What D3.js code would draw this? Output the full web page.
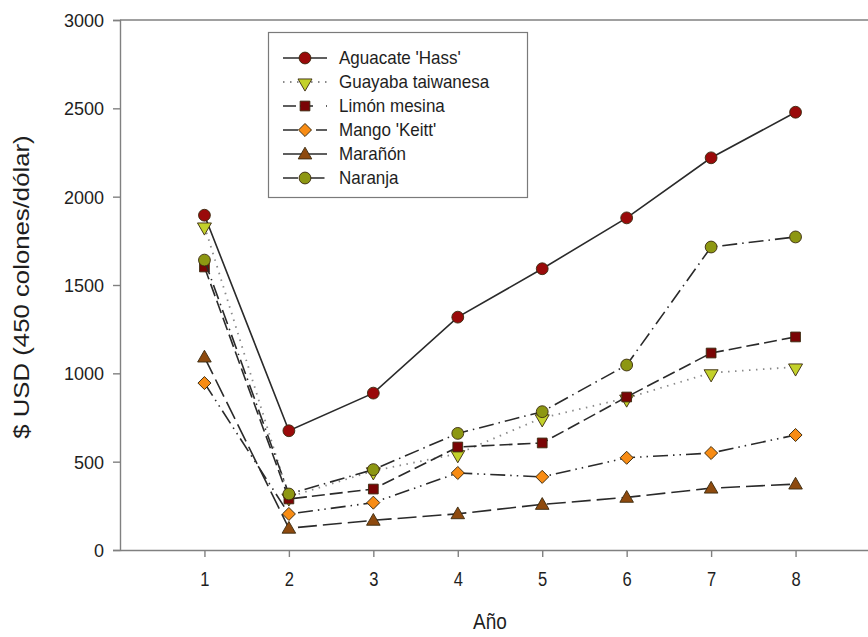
<!DOCTYPE html>
<html>
<head>
<meta charset="utf-8">
<script src="https://cdn.jsdelivr.net/npm/d3@7"></script>
<style>
  html, body { margin: 0; padding: 0; background: #fff; }
  svg { display: block; font-family: "Liberation Sans", Arial, sans-serif; }
</style>
</head>
<body>
<svg id="chart" width="868" height="637"></svg>
<script>
// Años del ciclo productivo
const years = [1, 2, 3, 4, 5, 6, 7, 8];
const yTicks = [0, 500, 1000, 1500, 2000, 2500, 3000];

// Valores en USD por cultivo
const aguacate = [1895, 675, 888, 1318, 1592, 1880, 2220, 2478];
const guayaba  = [1834, 300, 448, 545, 748, 860, 1003, 1036];
const limon    = [1602, 289, 345, 583, 606, 866, 1115, 1206];
const mango    = [945, 204, 268, 436, 414, 522, 549, 651];
const maranon  = [1092, 123, 168, 205, 258, 298, 350, 373];
const naranja  = [1641, 317, 455, 660, 783, 1047, 1715, 1772];

const seriesNames = ["Aguacate 'Hass'", "Guayaba taiwanesa", "Limón mesina", "Mango 'Keitt'", "Marañón", "Naranja"];
const seriesValues = [aguacate, guayaba, limon, mango, maranon, naranja];

const styles = [
  { shape: "circle",   fill: "#9a0a0a", dash: null,               legendDash: null,               stroke: "#2a2a2a", size: 110 },
  { shape: "triDown",  fill: "#c3d12a", dash: "1.5,5.5",          legendDash: "1.5,5.5",          stroke: "#8a8a8a", size: 85 },
  { shape: "square",   fill: "#7a0505", dash: "13,5",             legendDash: "13,4,13",          stroke: "#2a2a2a", size: 95 },
  { shape: "diamond",  fill: "#f88c14", dash: "15,5,1.5,5,1.5,5", legendDash: "15,5,1.5,5,1.5,5", stroke: "#2a2a2a", size: 85 },
  { shape: "triUp",    fill: "#8e4a0e", dash: "19,6",             legendDash: null,               stroke: "#2a2a2a", size: 80 },
  { shape: "circle",   fill: "#8d9712", dash: "15,5,1.5,5",       legendDash: "15,5,1.5,5",       stroke: "#2a2a2a", size: 110 }
];

const series = seriesNames.map((name, i) => ({
  name,
  values: years.map((yr, j) => ({ x: yr, y: seriesValues[i][j] })),
  style: styles[i]
}));

const svg = d3.select("#chart");
const x = d3.scaleLinear().domain([0, 9]).range([120, 880]);
const y = d3.scaleLinear().domain([0, 3000]).range([550, 20]);

const axisColor = "#808080";
const textColor = "#1e1e1e";

// Marco superior
svg.append("line")
  .attr("x1", x(0)).attr("x2", 868)
  .attr("y1", y(3000)).attr("y2", y(3000))
  .attr("stroke", axisColor).attr("stroke-width", 1.4);

// Eje Y
const gy = svg.append("g")
  .attr("transform", `translate(${x(0)},0)`)
  .call(d3.axisLeft(y).tickValues(yTicks).tickSize(7).tickPadding(9).tickFormat(d3.format("d")));
gy.select(".domain").attr("stroke", axisColor).attr("stroke-width", 1.4);
gy.selectAll(".tick line").attr("stroke", axisColor).attr("stroke-width", 1.4);
gy.selectAll(".tick text").attr("fill", textColor).style("font-size", "18px")
  .style("font-family", "'Liberation Sans', Arial, sans-serif")
  .attr("dy", "0.36em");

// Eje X
const gx = svg.append("g")
  .attr("transform", `translate(0,${y(0)})`)
  .call(d3.axisBottom(x).tickValues(years).tickSize(7).tickPadding(12).tickFormat(d3.format("d")).tickSizeOuter(0));
gx.select(".domain").attr("stroke", axisColor).attr("stroke-width", 1.4);
gx.selectAll(".tick line").attr("stroke", axisColor).attr("stroke-width", 1.4);
gx.selectAll(".tick text").attr("fill", textColor).style("font-size", "18px")
  .style("font-family", "'Liberation Sans', Arial, sans-serif")
  .attr("transform", "scale(0.92,1.12)");

// Títulos de ejes
svg.append("text")
  .attr("transform", `translate(29,${(y(0) + y(3000)) / 2 + 2}) rotate(-90) scale(1.12,1)`)
  .attr("text-anchor", "middle")
  .attr("fill", textColor)
  .style("font-size", "23px")
  .text("$ USD (450 colones/dólar)");

svg.append("text")
  .attr("transform", "translate(490,629) scale(1,1.2)")
  .attr("text-anchor", "middle")
  .attr("fill", textColor)
  .style("font-size", "19px")
  .text("Año");

// Símbolos
const shapeTypes = {
  circle: d3.symbolCircle,
  square: d3.symbolSquare,
  diamond: d3.symbolSquare,
  triUp: d3.symbolTriangle,
  triDown: d3.symbolTriangle
};
function symbolPath(style) {
  return d3.symbol().type(shapeTypes[style.shape]).size(style.size)();
}
function symbolTransform(style, cx, cy) {
  if (style.shape === "triDown") return `translate(${cx},${cy + 1}) rotate(180)`;
  if (style.shape === "triUp") return `translate(${cx},${cy + 1})`;
  if (style.shape === "diamond") return `translate(${cx},${cy}) rotate(45)`;
  return `translate(${cx},${cy})`;
}

const line = d3.line().x(d => x(d.x)).y(d => y(d.y));

series.forEach(s => {
  const g = svg.append("g");
  g.append("path")
    .datum(s.values)
    .attr("d", line)
    .attr("fill", "none")
    .attr("stroke", s.style.stroke)
    .attr("stroke-width", s.style.shape === "triDown" ? 1.8 : 1.6)
    .attr("stroke-dasharray", s.style.dash)
    .attr("stroke-linecap", "butt");
  g.selectAll("path.mk")
    .data(s.values)
    .join("path")
    .attr("class", "mk")
    .attr("d", symbolPath(s.style))
    .attr("transform", d => symbolTransform(s.style, x(d.x), y(d.y)))
    .attr("fill", s.style.fill)
    .attr("stroke", "#3a2a10")
    .attr("stroke-width", 0.9);
});

// Leyenda
const legend = svg.append("g");
legend.append("rect")
  .attr("x", 268.5).attr("y", 32.5)
  .attr("width", 259).attr("height", 165)
  .attr("fill", "#fff")
  .attr("stroke", "#7a7a7a")
  .attr("stroke-width", 1.2);

series.forEach((s, i) => {
  const cy = 58 + i * 24;
  const row = legend.append("g");
  row.append("line")
    .attr("x1", 283).attr("x2", 327)
    .attr("y1", cy).attr("y2", cy)
    .attr("stroke", s.style.stroke)
    .attr("stroke-width", s.style.shape === "triDown" ? 1.8 : 1.6)
    .attr("stroke-dasharray", s.style.legendDash);
  row.append("path")
    .attr("d", symbolPath(s.style))
    .attr("transform", symbolTransform(s.style, 305, cy))
    .attr("fill", s.style.fill)
    .attr("stroke", "#3a2a10")
    .attr("stroke-width", 0.9);
  row.append("text")
    .attr("transform", `translate(339,${cy + 6}) scale(1,1.08)`)
    .attr("fill", textColor)
    .style("font-size", "17px")
    .text(s.name);
});
</script>
</body>
</html>
